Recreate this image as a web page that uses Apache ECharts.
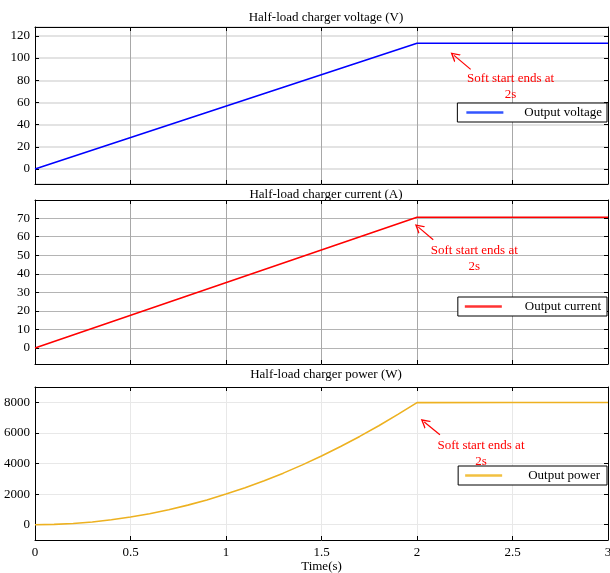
<!DOCTYPE html>
<html>
<head>
<meta charset="utf-8">
<script src="https://cdn.jsdelivr.net/npm/echarts@6/dist/echarts.min.js"></script>
<style>html,body{margin:0;padding:0;background:#fff}#c{width:610px;height:573px}</style>
</head>
<body>
<div id="c"></div>
<script>
// ---- data ----
const titles = ['Half-load charger voltage (V)', 'Half-load charger current (A)', 'Half-load charger power (W)'];
const seriesNames = ['Output voltage', 'Output current', 'Output power'];
const xTicks = [0, 0.5, 1, 1.5, 2, 2.5, 3];
const voltage = [[0, 0], [2, 113.3], [3, 113.3]];
const current = [[0, 0], [2, 70.5], [3, 70.5]];
const power = [[0, 0], [0.1, 20], [0.2, 80], [0.3, 180], [0.4, 320], [0.5, 500], [0.6, 720], [0.7, 980], [0.8, 1280], [0.9, 1620], [1.0, 2000], [1.1, 2420], [1.2, 2880], [1.3, 3370], [1.4, 3910], [1.5, 4490], [1.6, 5110], [1.7, 5770], [1.8, 6470], [1.9, 7210], [2.0, 7980], [2.5, 7985], [3.0, 7990]];
const yRanges = [[-13.5, 128], [-8.6, 79.8], [-1000, 9000]];
const yIntervals = [20, 10, 2000];
const annText = 'Soft start ends at\n2s';
const annTextPos = [[2.49, 74], [2.30, 48.3], [2.335, 4656]];
const annArrowFrom = [[2.281, 89.8], [2.085, 58.4], [2.120, 5882]];
const annArrowTo = [[2.194, 102.4], [2.007, 65.2], [2.038, 6715]];

// ---- styling ----
const FONT = '"Liberation Serif", "Times New Roman", serif';
const FS = 13;
const colors = ['#0000ff', '#ff0000', '#edb120'];
const legendColors = ['#3355ff', '#ff3333', '#f2c040'];
const grids = [
  { left: 35, right: 2, top: 27, height: 157, outerBoundsMode: 'none' },
  { left: 35, right: 2, top: 200, height: 164, outerBoundsMode: 'none' },
  { left: 35, right: 2, top: 387, height: 153, outerBoundsMode: 'none' }
];
const titleTops = [6, 183, 363];
const legendTops = [103, 297, 466];
const legendPads = [[2, 5, 2, 9], [2, 6, 2, 7], [2, 7, 2, 7]];
const legendTextGaps = [16, 18, 21];
const hGrid = [{ color: '#dadada', width: 1.6 }, { color: '#b4b4b4', width: 1 }, { color: '#e8e8e8', width: 1 }];
const vGrid = [{ color: '#a8a8a8', width: 1 }, { color: '#a8a8a8', width: 1 }, { color: '#e8e8e8', width: 1 }];
const chevron = 'path://M5,0 L10,10 L8.6,10 L5,3.2 L1.4,10 L0,10 Z';

const xAxes = [], yAxes = [], series = [], legends = [], titleArr = [];
for (let i = 0; i < 3; i++) {
  const last = i === 2;
  titleArr.push({
    text: titles[i], left: 321, top: titleTops[i], textAlign: 'center',
    textStyle: { fontFamily: FONT, fontSize: FS, fontWeight: 'normal', color: '#000' }
  });
  xAxes.push({
    type: 'value', gridIndex: i, min: xTicks[0], max: xTicks[xTicks.length - 1], interval: 0.5, position: 'bottom',
    axisLine: { show: true, onZero: false, lineStyle: { color: '#000', width: 1 } },
    axisTick: { show: true, inside: true, length: 4, lineStyle: { color: '#000' } },
    axisLabel: { show: last, margin: 6, fontFamily: FONT, fontSize: FS, color: '#000', formatter: v => String(v) },
    splitLine: { show: true, lineStyle: vGrid[i] },
    name: last ? 'Time(s)' : '', nameLocation: 'middle', nameGap: 19,
    nameTextStyle: { fontFamily: FONT, fontSize: FS, color: '#000' }
  });
  xAxes.push({
    type: 'value', gridIndex: i, min: xTicks[0], max: xTicks[xTicks.length - 1], interval: 0.5, position: 'top',
    axisLine: { show: true, onZero: false, lineStyle: { color: '#000', width: 1 } },
    axisTick: { show: true, inside: true, length: 4, lineStyle: { color: '#000' } },
    axisLabel: { show: false }, splitLine: { show: false }
  });
  const iv = yIntervals[i];
  const yCommon = {
    type: 'value', gridIndex: i, min: yRanges[i][0], max: yRanges[i][1],
    minInterval: iv, maxInterval: iv, splitNumber: 7
  };
  yAxes.push(Object.assign({}, yCommon, {
    position: 'left',
    axisLine: { show: true, onZero: false, lineStyle: { color: '#000', width: 1 } },
    axisTick: { show: true, inside: true, length: 4, lineStyle: { color: '#000' } },
    axisLabel: {
      margin: 5, fontFamily: FONT, fontSize: FS, color: '#000',
      formatter: v => (Math.abs(v / iv - Math.round(v / iv)) < 1e-6 ? String(Math.round(v)) : '')
    },
    splitLine: { show: true, lineStyle: hGrid[i] }
  }));
  yAxes.push(Object.assign({}, yCommon, {
    position: 'right',
    axisLine: { show: true, onZero: false, lineStyle: { color: '#000', width: 1 } },
    axisTick: { show: true, inside: true, length: 4, lineStyle: { color: '#000' } },
    axisLabel: { show: false }, splitLine: { show: false }
  }));
  const data = [voltage, current, power][i];
  series.push({
    name: seriesNames[i], type: 'line', xAxisIndex: 2 * i, yAxisIndex: 2 * i,
    data: data, symbol: 'none', smooth: false, animation: false,
    lineStyle: { color: colors[i], width: 1.6 }, itemStyle: { color: legendColors[i] },
    markLine: {
      silent: true, animation: false, symbol: ['none', chevron], symbolSize: [10, 9],
      lineStyle: { color: '#ff0000', width: 1.2, type: 'solid' }, itemStyle: { color: '#ff0000' },
      label: { show: false },
      data: [[{ coord: annArrowFrom[i] }, { coord: annArrowTo[i] }]]
    },
    markPoint: {
      silent: true, animation: false,
      data: [{
        coord: annTextPos[i], symbol: 'circle', symbolSize: 0,
        label: { show: true, position: 'inside', formatter: annText, color: '#ff0000',
          fontFamily: FONT, fontSize: FS, lineHeight: 16, align: 'center' }
      }]
    }
  });
  legends.push({
    data: [{ name: seriesNames[i], icon: 'rect' }], right: 3, top: legendTops[i], orient: 'vertical',
    itemWidth: 37, itemHeight: 2.5, padding: legendPads[i], z: 10,
    backgroundColor: '#fff', borderColor: '#000', borderWidth: 1, borderRadius: 0,
    itemStyle: { color: legendColors[i] },
    textStyle: { fontFamily: FONT, fontSize: FS, color: '#000', padding: [0, 0, 0, legendTextGaps[i]], lineHeight: 15 },
    selectedMode: false
  });
}

const chart = echarts.init(document.getElementById('c'), null, { renderer: 'canvas' });
chart.setOption({
  backgroundColor: '#fff', animation: false,
  title: titleArr, grid: grids, xAxis: xAxes, yAxis: yAxes, legend: legends, series: series
});
</script>
</body>
</html>
